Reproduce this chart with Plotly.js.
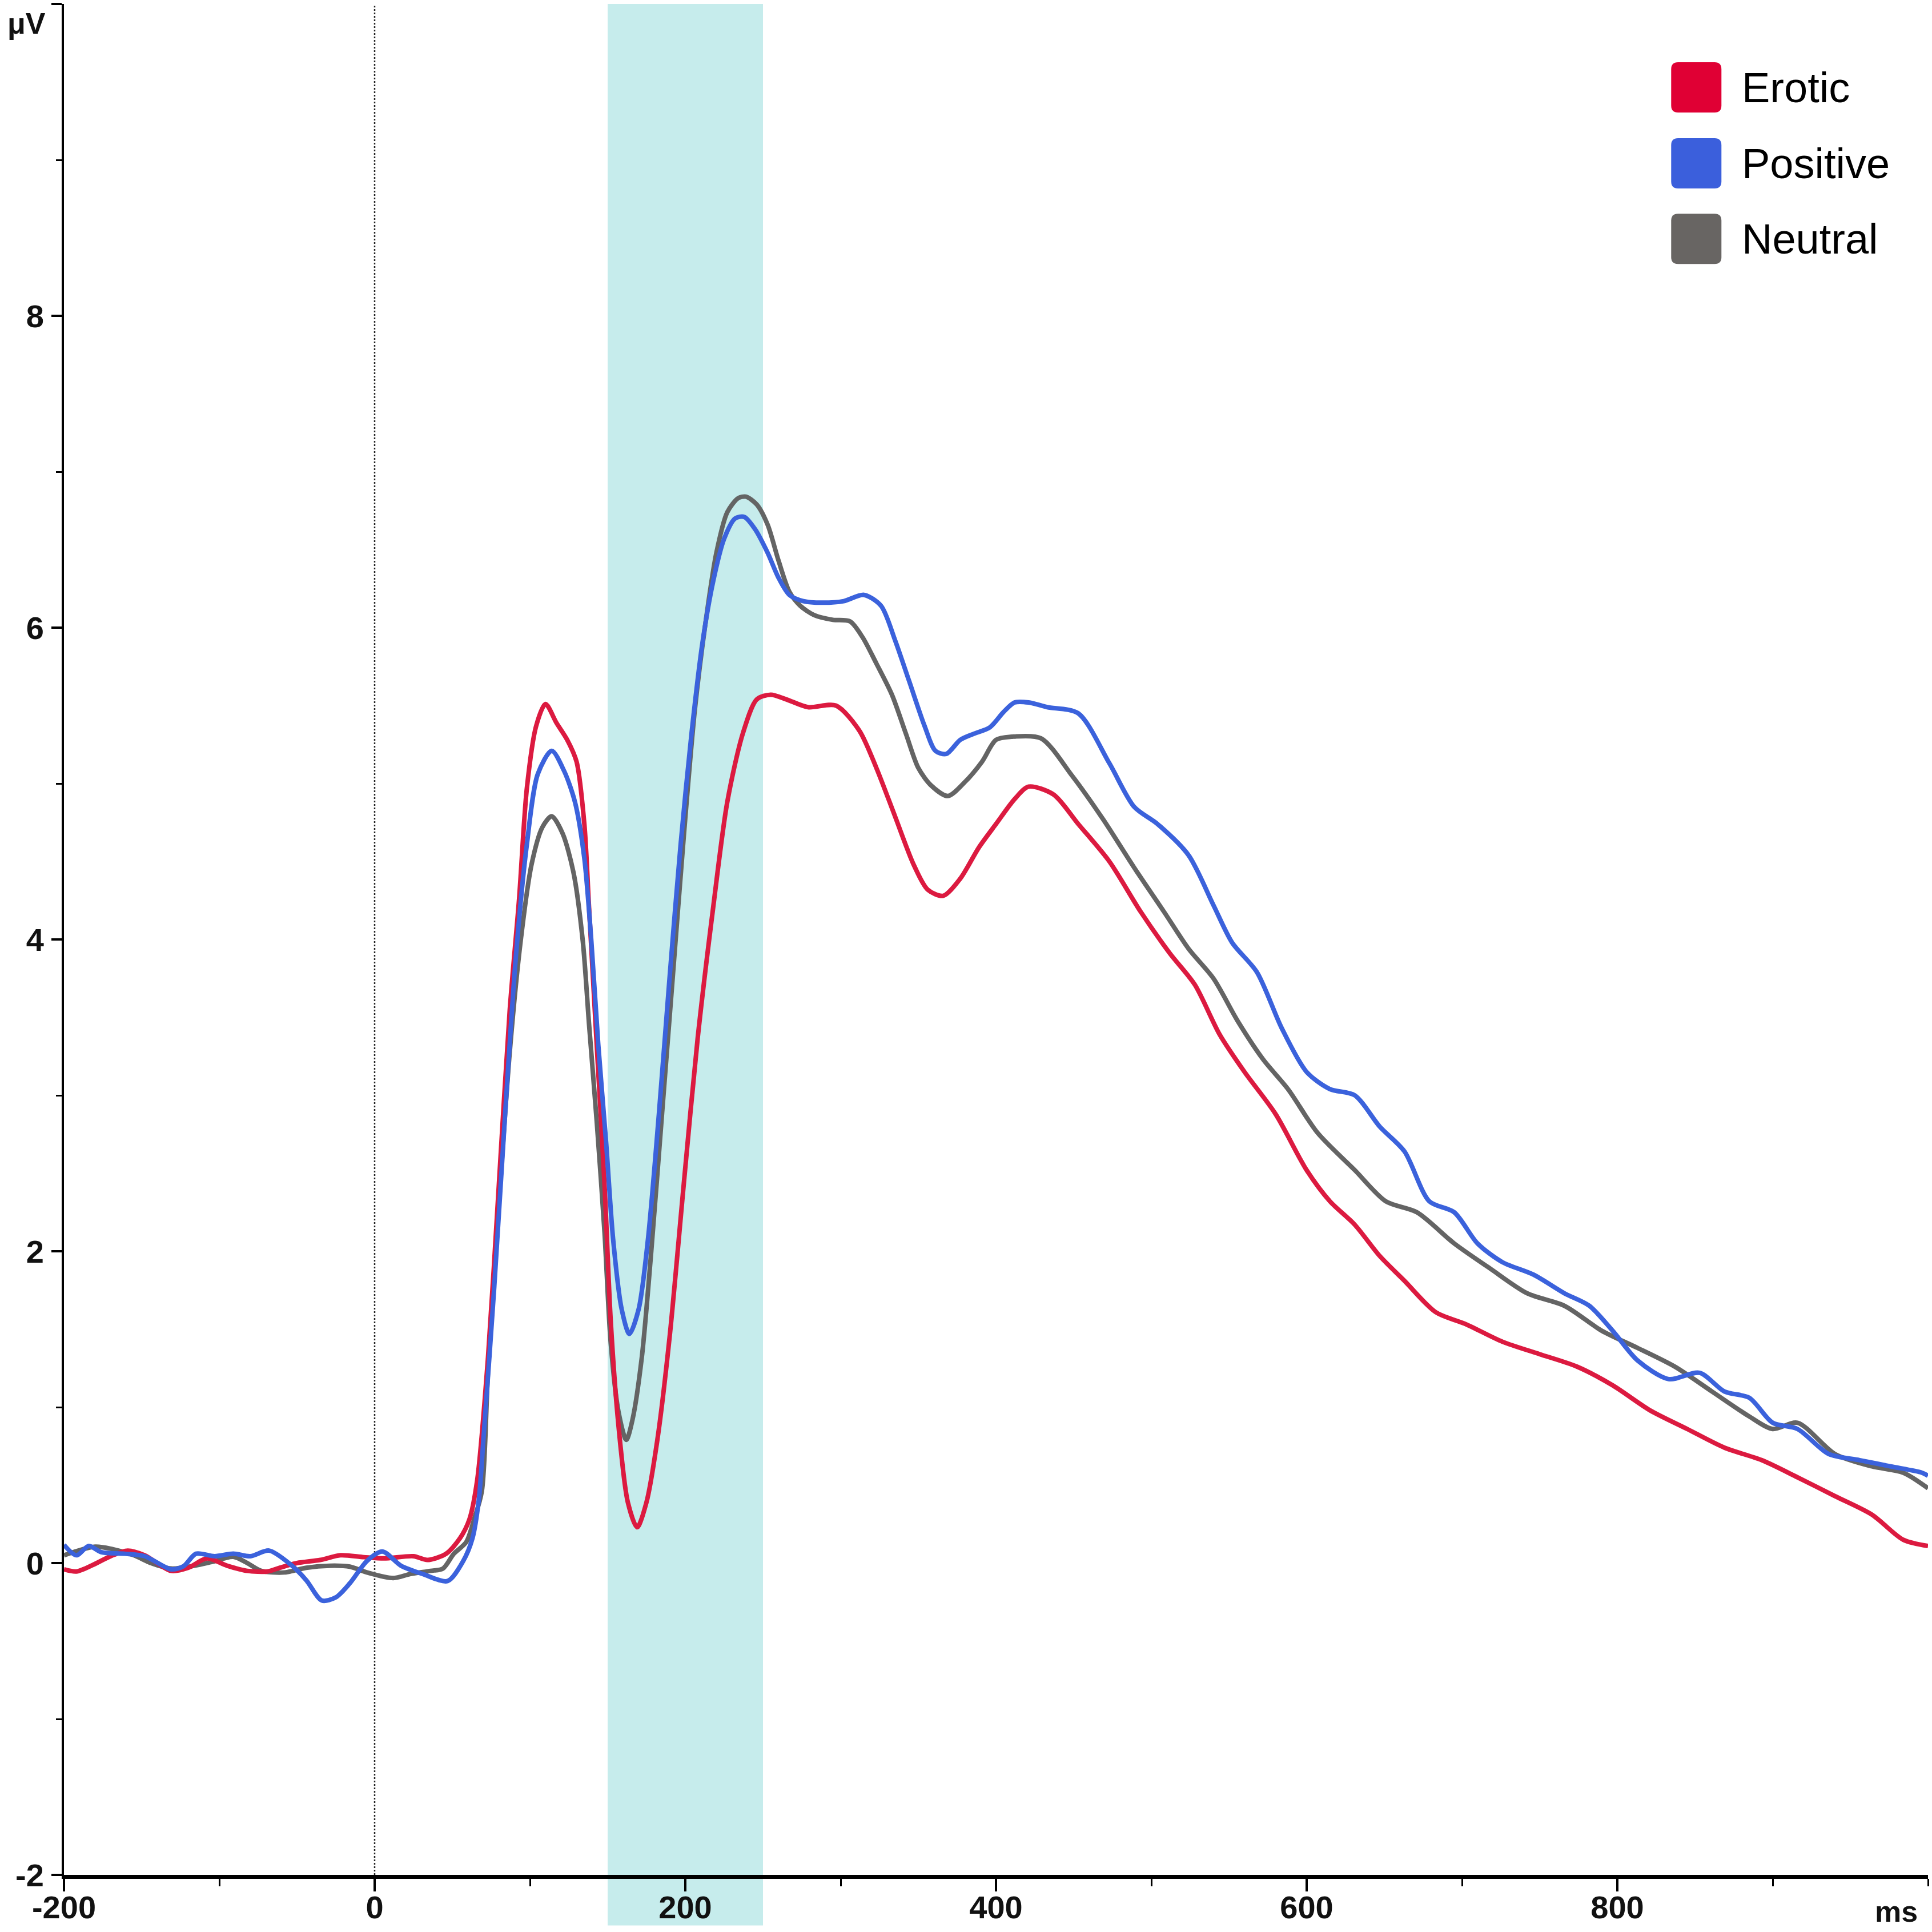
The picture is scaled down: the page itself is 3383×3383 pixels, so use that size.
<!DOCTYPE html>
<html>
<head>
<meta charset="utf-8">
<script src="https://cdn.plot.ly/plotly-3.0.1.min.js"></script>
<style>
  html, body { margin: 0; padding: 0; background: #fff; }
  #erp { width: 3383px; height: 3383px; }
</style>
</head>
<body>
<div id="erp"></div>
<script>
// ERP waveforms (ms / µV)
const eroticMs = [-200,-192,-181,-170,-159,-148,-131,-120,-108,-95,-82,-69,-61,-50,-35,-22,-7,6,25,34,46,55,61,66,73,80,87,93,98,104,110,117,124,130,135,138,143,148,152,157,163,169,175,182,190,199,208,218,227,237,246,255,265,279,297,312,323,335,347,356,366,377,389,400,412,421,437,453,473,493,512,528,544,560,580,600,615,631,647,663,683,703,726,750,774,797,821,845,869,893,916,940,964,984,1000];
const eroticUv = [-0.04,-0.054,-0.01,0.044,0.08,0.05,-0.05,-0.03,0.03,-0.017,-0.05,-0.054,-0.03,0.0,0.02,0.05,0.038,0.03,0.044,0.02,0.06,0.16,0.28,0.53,1.32,2.43,3.55,4.26,4.97,5.37,5.51,5.39,5.28,5.14,4.74,4.21,3.32,2.43,1.55,0.88,0.39,0.23,0.39,0.79,1.46,2.43,3.37,4.21,4.88,5.32,5.54,5.57,5.54,5.49,5.50,5.34,5.10,4.79,4.48,4.32,4.28,4.39,4.59,4.74,4.90,4.98,4.93,4.74,4.50,4.18,3.91,3.71,3.39,3.15,2.88,2.52,2.32,2.17,1.97,1.81,1.61,1.53,1.42,1.34,1.26,1.14,0.98,0.86,0.74,0.66,0.55,0.43,0.31,0.15,0.11];

const positiveMs = [-200,-192,-184,-176,-161,-148,-131,-123,-115,-103,-91,-80,-68,-54,-44,-34,-25,-16,-5,5,17,31,47,57,63,67,70,77,84,91,98,105,114,122,129,135,139.5,144,149,153.5,159,164,170,176,183,190,197,204,211,218,225,232,238,245,253,260,267,276,288,302,315,326,335,344,354,361,368,377,386,396,405,412,421,433,453,473,489,504,524,540,552,568,584,600,615,631,647,663,679,695,710,726,746,766,782,797,813,833,853,869,885,900,916,936,956,976,996,1000];
const positiveUv = [0.117,0.05,0.11,0.07,0.06,0.044,-0.04,-0.02,0.06,0.044,0.06,0.044,0.08,-0.01,-0.11,-0.24,-0.22,-0.13,0.013,0.074,-0.017,-0.07,-0.115,0.013,0.16,0.40,0.79,1.77,2.88,3.90,4.61,5.06,5.21,5.08,4.88,4.52,3.99,3.32,2.70,2.08,1.63,1.47,1.63,2.08,2.88,3.77,4.61,5.32,5.90,6.30,6.57,6.70,6.71,6.63,6.48,6.32,6.21,6.17,6.16,6.17,6.21,6.14,5.92,5.66,5.37,5.21,5.19,5.28,5.32,5.36,5.46,5.52,5.52,5.49,5.45,5.13,4.85,4.74,4.54,4.22,3.98,3.79,3.43,3.15,3.04,3.0,2.80,2.64,2.32,2.25,2.05,1.93,1.85,1.73,1.65,1.49,1.30,1.18,1.22,1.10,1.06,0.90,0.86,0.70,0.66,0.62,0.58,0.56];

const neutralMs = [-200,-180,-169,-155,-144,-131,-116,-105,-91,-82,-73,-58,-44,-29,-16,-5,12,23,36,44,51,59,64,69,73,80,87,94,101,108,114,121,128,134,138,143,148,152,157,162,166,172,178,185,192,199,206,213,220,227,234,239,246,253,260,267,274,283,295,306,314,323,333,342,350,358,369,380,391,400,410,429,449,469,489,508,524,540,556,572,588,607,631,651,671,695,718,742,766,790,813,837,861,885,900,916,940,964,984,1000];
const neutralUv = [0.05,0.105,0.09,0.05,0,-0.035,-0.017,0.007,0.04,0,-0.05,-0.06,-0.03,-0.017,-0.023,-0.06,-0.096,-0.07,-0.05,-0.035,0.06,0.135,0.28,0.46,1.23,2.30,3.28,3.99,4.48,4.72,4.79,4.68,4.43,3.99,3.46,2.83,2.12,1.41,0.97,0.79,0.92,1.32,1.99,2.88,3.77,4.66,5.46,6.03,6.48,6.74,6.83,6.84,6.79,6.66,6.43,6.23,6.14,6.08,6.05,6.04,5.94,5.77,5.57,5.32,5.10,4.99,4.92,5.01,5.14,5.28,5.30,5.29,5.05,4.77,4.46,4.18,3.94,3.75,3.47,3.23,3.04,2.76,2.52,2.32,2.25,2.05,1.89,1.73,1.65,1.49,1.38,1.26,1.10,0.94,0.86,0.90,0.70,0.62,0.58,0.48];

const seriesNames = ["Erotic", "Positive", "Neutral"];
const lineColors = ["#dc1a40", "#3b62dc", "#646464"];
const legendColors = ["#e00034", "#3b5fdc", "#686563"];

const xTickVals = [-200, 0, 200, 400, 600, 800];
const xTickText = ["-200", "0", "200", "400", "600", "800"];
const yTickVals = [-2, 0, 2, 4, 6, 8, 10];
const yTickText = ["-2", "0", "2", "4", "6", "8", ""];
const windowMs = [150, 250]; // highlighted interval

const tickFont = {
  family: "Liberation Sans Narrow, Arial Narrow, Liberation Sans, Arial",
  size: 56,
  weight: "bold",
  color: "#111"
};

function trace(x, y, i) {
  return {
    x: x,
    y: y,
    type: "scatter",
    mode: "lines",
    name: seriesNames[i],
    line: { color: lineColors[i], width: 8, shape: "spline", smoothing: 0.8 },
    hoverinfo: "skip"
  };
}

// neutral underneath, positive on top
const data = [
  trace(neutralMs, neutralUv, 2),
  trace(eroticMs, eroticUv, 0),
  trace(positiveMs, positiveUv, 1)
];

// legend drawn by hand: rounded squares + labels
const legendY = [0.9554, 0.9148, 0.8745];
const sq = 44, rr = 12;
const roundedSquare =
  `M ${-sq + rr},${-sq} L ${sq - rr},${-sq} Q ${sq},${-sq} ${sq},${-sq + rr} ` +
  `L ${sq},${sq - rr} Q ${sq},${sq} ${sq - rr},${sq} L ${-sq + rr},${sq} ` +
  `Q ${-sq},${sq} ${-sq},${sq - rr} L ${-sq},${-sq + rr} Q ${-sq},${-sq} ${-sq + rr},${-sq} Z`;

const shapes = [
  {
    type: "rect", xref: "x", yref: "paper",
    x0: windowMs[0], x1: windowMs[1], y0: -0.027, y1: 1,
    fillcolor: "#c6ecec", line: { width: 0 }, layer: "below"
  },
  {
    type: "line", xref: "x", yref: "y",
    x0: 0, x1: 0, y0: -2, y1: 10,
    line: { color: "#222", width: 2.5, dash: "dot" }, layer: "below"
  }
];

const annotations = [
  {
    text: "μV", xref: "paper", yref: "paper", x: -0.031, y: 0.999,
    xanchor: "left", yanchor: "top", showarrow: false,
    font: { family: "Liberation Sans", size: 52, weight: "bold", color: "#111" }
  },
  {
    text: "ms", xref: "paper", yref: "paper", x: 0.983, y: -0.0195,
    xanchor: "center", yanchor: "middle", showarrow: false,
    font: { family: "Liberation Sans", size: 52, weight: "bold", color: "#111" }
  }
];

seriesNames.forEach((name, i) => {
  shapes.push({
    type: "path", xref: "paper", yref: "paper",
    xsizemode: "pixel", ysizemode: "pixel",
    xanchor: 0.8757, yanchor: legendY[i],
    path: roundedSquare,
    fillcolor: legendColors[i], line: { width: 0 }
  });
  annotations.push({
    text: name, xref: "paper", yref: "paper",
    x: 0.8995, y: legendY[i], xanchor: "left", yanchor: "middle",
    showarrow: false,
    font: { family: "Liberation Sans, Arial", size: 74, color: "#000" }
  });
});

const layout = {
  width: 3383,
  height: 3383,
  margin: { t: 7, l: 112, r: 7, b: 100 },
  paper_bgcolor: "#ffffff",
  plot_bgcolor: "rgba(0,0,0,0)",
  showlegend: false,
  xaxis: {
    range: [-200, 1000],
    showgrid: false,
    zeroline: false,
    showline: true,
    linecolor: "#000",
    linewidth: 7,
    ticks: "outside",
    ticklen: 22,
    tickwidth: 4,
    tickcolor: "#000",
    tickvals: xTickVals,
    ticktext: xTickText,
    ticklabelstandoff: -20,
    tickfont: tickFont,
    minor: { dtick: 100, ticks: "outside", ticklen: 13, tickwidth: 3, tickcolor: "#000", showgrid: false }
  },
  yaxis: {
    range: [-2, 10],
    showgrid: false,
    zeroline: false,
    showline: true,
    linecolor: "#000",
    linewidth: 4,
    ticks: "outside",
    ticklen: 18,
    tickwidth: 4,
    tickcolor: "#000",
    tickvals: yTickVals,
    ticktext: yTickText,
    ticklabelstandoff: 2,
    tickfont: tickFont,
    minor: { dtick: 1, ticks: "outside", ticklen: 10, tickwidth: 3, tickcolor: "#000", showgrid: false }
  },
  shapes: shapes,
  annotations: annotations
};

const config = { displayModeBar: false, responsive: false, staticPlot: true };

Plotly.newPlot("erp", data, layout, config);
</script>
</body>
</html>
